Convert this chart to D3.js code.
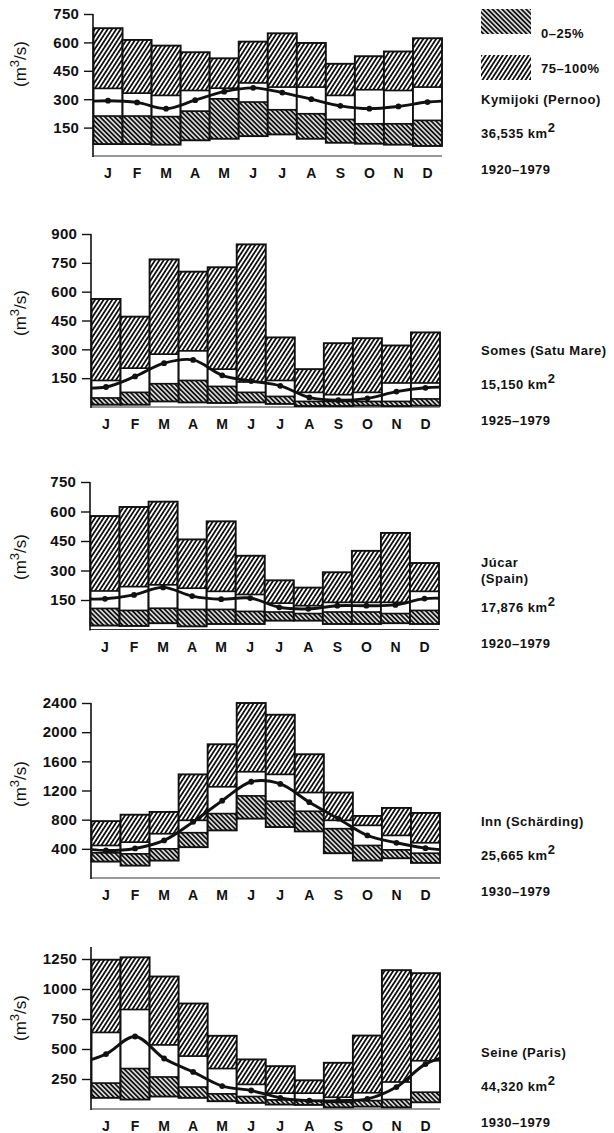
<!DOCTYPE html>
<html><head><meta charset="utf-8">
<script src="https://cdn.jsdelivr.net/npm/d3@7"></script>
<style>body{margin:0;background:#fff} svg{display:block}</style>
</head><body>
<svg id="c" width="614" height="1133"></svg>
<script>
const months = ["J","F","M","A","M","J","J","A","S","O","N","D"];

// Kymijoki (Pernoo)
const kymiTicks = [150, 300, 450, 600, 750];
const kymiMax  = [675, 613, 583, 548, 516, 604, 648, 597, 487, 527, 552, 622];
const kymiQ75  = [357, 332, 320, 346, 358, 386, 364, 364, 320, 350, 346, 364];
const kymiQ25  = [211, 211, 208, 237, 302, 285, 244, 223, 193, 170, 170, 188];
const kymiMin  = [63, 63, 60, 83, 91, 105, 114, 91, 70, 65, 60, 53];
const kymiMean = [292, 283, 250, 295, 340, 360, 335, 300, 265, 250, 262, 285];

// Somes (Satu Mare)
const somesTicks = [150, 300, 450, 600, 750, 900];
const somesMax  = [562, 470, 768, 704, 727, 846, 362, 197, 332, 358, 320, 388];
const somesQ75  = [138, 202, 275, 292, 197, 130, 138, 76, 64, 76, 125, 125];
const somesQ25  = [47, 76, 121, 138, 107, 76, 55, 29, 29, 29, 29, 42];
const somesMin  = [12, 12, 29, 24, 21, 24, 16, 5, 5, 7, 5, 7];
const somesMean = [104, 159, 228, 245, 165, 135, 110, 50, 35, 45, 80, 100];

// Júcar (Spain)
const jucarTicks = [150, 300, 450, 600, 750];
const jucarMax  = [577, 623, 650, 458, 550, 375, 250, 213, 291, 400, 491, 338];
const jucarQ75  = [196, 218, 227, 210, 194, 178, 134, 121, 138, 138, 138, 194];
const jucarQ25  = [107, 97, 108, 102, 102, 92, 89, 81, 89, 89, 81, 97];
const jucarMin  = [20, 18, 32, 16, 28, 28, 45, 45, 28, 28, 32, 28];
const jucarMean = [156, 176, 214, 170, 154, 160, 113, 105, 121, 121, 125, 157];

// Inn (Schärding)
const innTicks = [400, 800, 1200, 1600, 2000, 2400];
const innMax  = [780, 868, 906, 1421, 1834, 2400, 2239, 1697, 1172, 851, 961, 892];
const innQ75  = [446, 492, 607, 791, 1251, 1457, 1421, 1172, 791, 722, 584, 483];
const innQ25  = [345, 331, 400, 621, 883, 1126, 1053, 915, 676, 446, 386, 340];
const innMin  = [225, 170, 239, 423, 653, 814, 699, 639, 340, 239, 271, 207];
const innMean = [377, 405, 515, 770, 1060, 1320, 1290, 1040, 814, 584, 483, 409];

// Seine (Paris)
const seineTicks = [250, 500, 750, 1000, 1250];
const seineMax  = [1244, 1264, 1104, 879, 610, 413, 357, 239, 385, 612, 1157, 1132];
const seineQ75  = [638, 829, 534, 441, 337, 205, 132, 132, 98, 135, 225, 402];
const seineQ25  = [216, 337, 267, 183, 126, 104, 76, 70, 56, 70, 79, 140];
const seineMin  = [93, 79, 104, 93, 65, 51, 37, 34, 14, 20, 14, 56];
const seineMean = [458, 604, 421, 309, 191, 154, 93, 70, 70, 84, 183, 374];

const riverNames = [["Kymijoki (Pernoo)"], ["Somes (Satu Mare)"], ["Júcar", "(Spain)"], ["Inn (Schärding)"], ["Seine (Paris)"]];
const riverAreas = ["36,535", "15,150", "17,876", "25,665", "44,320"];
const riverYears = ["1920–1979", "1925–1979", "1920–1979", "1930–1979", "1930–1979"];
const legendLabels = ["0–25%", "75–100%"];

const rivers = [
  {ticks: kymiTicks, max: kymiMax, q75: kymiQ75, q25: kymiQ25, min: kymiMin, mean: kymiMean},
  {ticks: somesTicks, max: somesMax, q75: somesQ75, q25: somesQ25, min: somesMin, mean: somesMean},
  {ticks: jucarTicks, max: jucarMax, q75: jucarQ75, q25: jucarQ25, min: jucarMin, mean: jucarMean},
  {ticks: innTicks, max: innMax, q75: innQ75, q25: innQ25, min: innMin, mean: innMean},
  {ticks: seineTicks, max: seineMax, q75: seineQ75, q25: seineQ25, min: seineMin, mean: seineMean}
];

// layout (pixels)
const layout = [
  {x0: 93, yTop: 14,  yBase: 156, labelY: 64,  axisExtra: 0},
  {x0: 91, yTop: 234, yBase: 407, labelY: 313, axisExtra: 0},
  {x0: 90, yTop: 482, yBase: 629.5, labelY: 557, axisExtra: 0},
  {x0: 91, yTop: 703, yBase: 878, labelY: 784, axisExtra: 0},
  {x0: 91, yTop: 959, yBase: 1109, labelY: 1018, axisExtra: 12}
];
const plotW = 349;
const textX = 481;
const FONT = "'Liberation Sans', Arial, Helvetica, sans-serif";
const INK = "#111";

const svg = d3.select("#c");
const defs = svg.append("defs");
function hatch(id, angle, spacing, sw) {
  const p = defs.append("pattern").attr("id", id).attr("patternUnits", "userSpaceOnUse")
    .attr("width", spacing).attr("height", spacing)
    .attr("patternTransform", `rotate(${angle})`);
  p.append("rect").attr("width", spacing).attr("height", spacing).attr("fill", "#fff");
  p.append("line").attr("x1", spacing / 2).attr("y1", -1).attr("x2", spacing / 2).attr("y2", spacing + 1)
    .attr("stroke", INK).attr("stroke-width", sw);
}
hatch("lowH", -45, 3.4, 2.0);
hatch("highH", 33, 3.6, 1.8);

rivers.forEach((r, k) => {
  const L = layout[k];
  const g = svg.append("g");
  const topVal = r.ticks[r.ticks.length - 1];
  const y = d3.scaleLinear().domain([0, topVal]).range([L.yBase, L.yTop]);
  const x = d3.scaleLinear().domain([0, 12]).range([L.x0 + 0.5, L.x0 + plotW]);

  // baseline
  g.append("line").attr("x1", L.x0).attr("x2", L.x0 + plotW).attr("y1", L.yBase).attr("y2", L.yBase)
    .attr("stroke", "#333").attr("stroke-width", 1.1);

  const idx = d3.range(12);
  const bars = g.selectAll("g.bar").data(idx).join("g").attr("class", "bar");
  bars.append("rect").attr("x", i => x(i)).attr("width", i => x(i + 1) - x(i))
    .attr("y", i => y(r.q25[i])).attr("height", i => y(r.min[i]) - y(r.q25[i]))
    .attr("fill", "url(#lowH)");
  bars.append("rect").attr("x", i => x(i)).attr("width", i => x(i + 1) - x(i))
    .attr("y", i => y(r.q75[i])).attr("height", i => y(r.q25[i]) - y(r.q75[i]))
    .attr("fill", "#fff");
  bars.append("rect").attr("x", i => x(i)).attr("width", i => x(i + 1) - x(i))
    .attr("y", i => y(r.max[i])).attr("height", i => y(r.q75[i]) - y(r.max[i]))
    .attr("fill", "url(#highH)");
  bars.append("rect").attr("x", i => x(i)).attr("width", i => x(i + 1) - x(i))
    .attr("y", i => y(r.max[i])).attr("height", i => y(r.min[i]) - y(r.max[i]))
    .attr("fill", "none").attr("stroke", INK).attr("stroke-width", 1.9);
  bars.append("line").attr("x1", i => x(i)).attr("x2", i => x(i + 1))
    .attr("y1", i => y(r.q75[i])).attr("y2", i => y(r.q75[i]))
    .attr("stroke", INK).attr("stroke-width", 1.7);
  bars.append("line").attr("x1", i => x(i)).attr("x2", i => x(i + 1))
    .attr("y1", i => y(r.q25[i])).attr("y2", i => y(r.q25[i]))
    .attr("stroke", INK).attr("stroke-width", 1.7);

  // mean curve (cyclic neighbours, clipped to plot)
  const clipId = "clip" + k;
  defs.append("clipPath").attr("id", clipId).append("rect")
    .attr("x", x(0)).attr("y", L.yTop - 20).attr("width", x(12) - x(0)).attr("height", L.yBase - L.yTop + 30);
  const pts = [[-1, r.mean[11]]].concat(r.mean.map((v, i) => [i, v]), [[12, r.mean[0]]]);
  const line = d3.line().x(d => x(d[0] + 0.5)).y(d => y(d[1])).curve(d3.curveCatmullRom.alpha(0.5));
  g.append("path").attr("d", line(pts)).attr("fill", "none").attr("stroke", INK)
    .attr("stroke-width", 2.9).attr("clip-path", `url(#${clipId})`);
  g.selectAll("circle").data(idx).join("circle")
    .attr("cx", i => x(i + 0.5)).attr("cy", i => y(r.mean[i])).attr("r", 2.9).attr("fill", INK);

  // y axis
  const ax = g.append("g").attr("transform", `translate(${L.x0},0)`)
    .call(d3.axisLeft(y).tickValues(r.ticks).tickSize(9).tickSizeOuter(0).tickPadding(5).tickFormat(d3.format("d")));
  ax.select(".domain").remove();
  ax.selectAll(".tick line").attr("stroke", INK).attr("stroke-width", 1.4);
  ax.selectAll(".tick text").attr("font-family", FONT).attr("font-weight", "bold")
    .attr("font-size", 15).attr("letter-spacing", "0.2px").attr("fill", INK);
  g.append("line").attr("x1", L.x0).attr("x2", L.x0).attr("y1", L.yTop - L.axisExtra).attr("y2", L.yBase + 1)
    .attr("stroke", INK).attr("stroke-width", 1.6);

  // month labels
  g.selectAll("text.m").data(idx).join("text").attr("class", "m")
    .attr("x", i => x(i + 0.5)).attr("y", L.yBase + 22).attr("text-anchor", "middle")
    .attr("font-family", FONT).attr("font-weight", "bold").attr("font-size", 14).attr("fill", INK)
    .text(i => months[i]);

  // y label
  const yl = g.append("text").attr("transform", `translate(26,${L.labelY}) rotate(-90)`)
    .attr("text-anchor", "middle").attr("font-family", FONT).attr("font-size", 17).attr("fill", INK);
  yl.append("tspan").text("(m");
  yl.append("tspan").attr("dy", -7).attr("font-size", 13).text("3");
  yl.append("tspan").attr("dy", 7).text("/s)");

  // right-hand labels
  const tAttr = sel => sel.attr("font-family", FONT).attr("font-weight", "bold").attr("font-size", 13)
    .attr("letter-spacing", "0.5px").attr("fill", INK);
  const nm = riverNames[k];
  nm.forEach((s, j) => {
    const yy = nm.length === 1 ? L.yBase - 52 : L.yBase - 63 + j * 16;
    tAttr(g.append("text").attr("x", textX).attr("y", yy)).text(s);
  });
  const ar = tAttr(g.append("text").attr("x", textX).attr("y", L.yBase - 18));
  ar.append("tspan").text(riverAreas[k] + " km");
  ar.append("tspan").attr("dy", -6).attr("font-size", 13).text("2");
  tAttr(g.append("text").attr("x", textX).attr("y", L.yBase + 18)).text(riverYears[k]);
});

// legend
const legY = [9, 55];
const legFill = ["url(#lowH)", "url(#highH)"];
const legTextY = [38, 73];
legendLabels.forEach((s, j) => {
  svg.append("rect").attr("x", textX).attr("y", legY[j]).attr("width", 50).attr("height", 25).attr("fill", legFill[j]);
  svg.append("text").attr("x", 541).attr("y", legTextY[j]).attr("font-family", FONT).attr("font-weight", "bold")
    .attr("font-size", 13).attr("letter-spacing", "0.5px").attr("fill", INK).text(s);
});
</script>
</body></html>
